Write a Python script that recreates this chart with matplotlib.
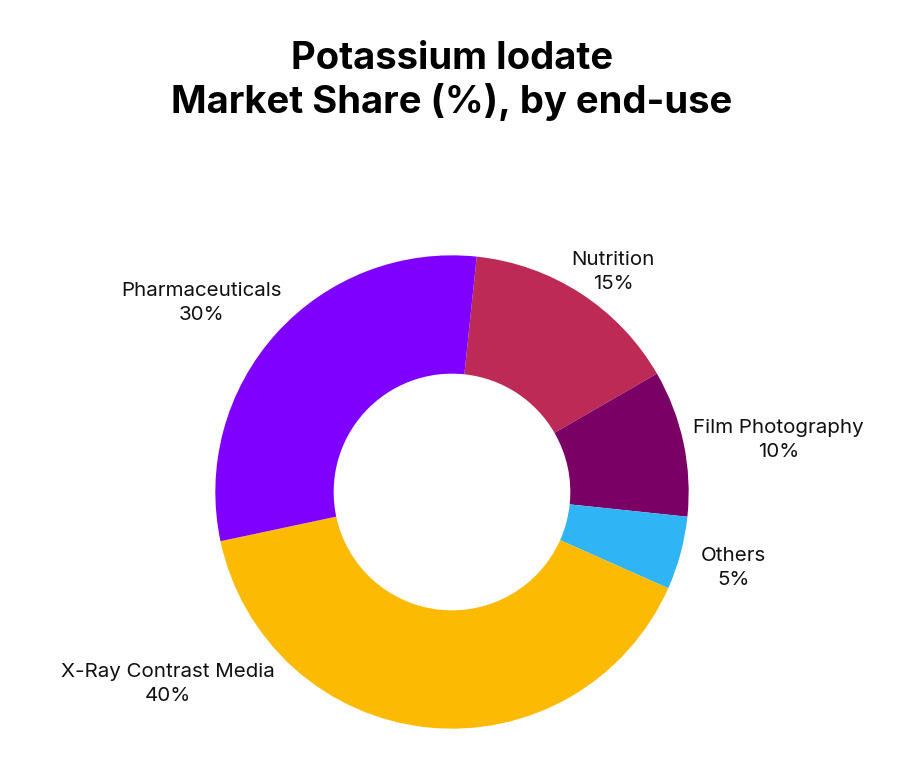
import matplotlib
matplotlib.use('Agg')
import matplotlib.pyplot as plt

# data, clockwise from the top
categories = ['Nutrition', 'Film Photography', 'Others', 'X-Ray Contrast Media', 'Pharmaceuticals']
shares = [15, 10, 5, 40, 30]
colors = ['#BE2A56', '#7A0066', '#2FB4F6', '#FCBA03', '#8000FF']

# label spots in pie units (radius 1)
label_pos = [(0.68, 0.93), (1.38, 0.22), (1.19, -0.32), (-1.20, -0.81), (-1.06, 0.80)]

plt.rcParams['font.family'] = ['Inter', 'DejaVu Sans']

fig = plt.figure(figsize=(9, 7.8), dpi=100)
ax = fig.add_axes([168/900, 4/780, 568/900, 568/780])

ax.pie(shares, colors=colors, startangle=84, counterclock=False,
       radius=1, wedgeprops=dict(width=0.5, linewidth=0))
ax.set_xlim(-1.2, 1.2)
ax.set_ylim(-1.2, 1.2)
ax.set_aspect('equal')
ax.axis('off')

for name, val, (x, y) in zip(categories, shares, label_pos):
    ax.text(x, y, f'{name}\n{val}%', ha='center', va='center',
            fontsize=14.8, color='#111111', linespacing=1.45)

fig.text(452/900, 1 - 81/780, 'Potassium Iodate\nMarket Share (%), by end-use',
         ha='center', va='center', fontsize=27.5, fontweight='bold',
         linespacing=1.2)

plt.savefig('out.png', dpi=100)
